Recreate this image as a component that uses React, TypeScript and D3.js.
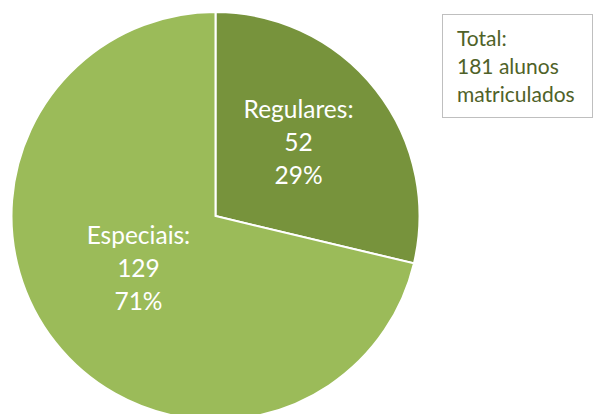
import React from "react";
import * as d3 from "d3";

const categories = ["Regulares", "Especiais"];
const values = [52, 129];
const percents = ["29%", "71%"];
const colors = ["#77933C", "#9BBB59"];
const legendLines = ["Total:", "181 alunos", "matriculados"];

export default function App() {
  const W = 595, H = 414;
  const cx = 215.5, cy = 216, r = 204;
  const pie = d3.pie<number>().sort(null).value((d) => d);
  const arcs = pie(values);
  const arc = d3.arc<d3.PieArcDatum<number>>().innerRadius(0).outerRadius(r);
  const labelArc = d3.arc<d3.PieArcDatum<number>>().innerRadius(102).outerRadius(102);
  const font = "Lato, 'Open Sans', sans-serif";
  return (
    <svg width={W} height={H} style={{ position: "absolute", left: 0, top: 0, background: "#fff" }}>
      <g transform={`translate(${cx},${cy})`}>
        {arcs.map((a, i) => (
          <path key={i} d={arc(a) || ""} fill={colors[i]} stroke="#fff" strokeWidth={2} />
        ))}
        {arcs.map((a, i) => {
          const [x, y] = labelArc.centroid(a);
          const lines = [categories[i] + ":", String(values[i]), percents[i]];
          return (
            <text key={i} x={x + 3} y={y - 2} textAnchor="middle" fill="#fff" fontFamily={font} fontSize={24.5}>
              {lines.map((l, j) => (
                <tspan key={j} x={x + 3} dy={j === 0 ? -33 : 33}>{l}</tspan>
              ))}
            </text>
          );
        })}
      </g>
      <rect x={442.5} y={14.5} width={150} height={103} fill="#fff" stroke="#BFBFBF" strokeWidth={1} />
      <text fontFamily={font} fontSize={21} fill="#4F6228">
        {legendLines.map((l, j) => (
          <tspan key={j} x={457} y={46 + j * 28}>{l}</tspan>
        ))}
      </text>
    </svg>
  );
}
